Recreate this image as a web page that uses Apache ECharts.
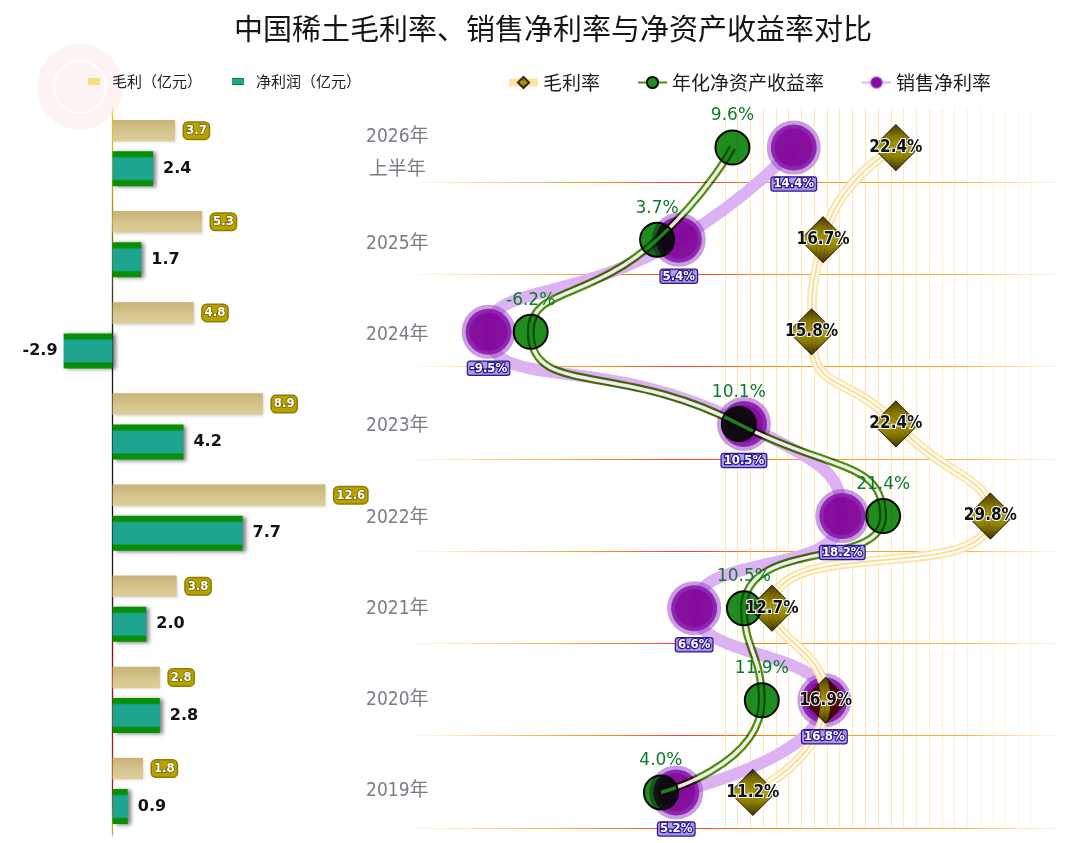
<!DOCTYPE html>
<html><head><meta charset="utf-8">
<script src="https://cdn.jsdelivr.net/npm/echarts@6/dist/echarts.min.js"></script>
<style>html,body{margin:0;padding:0;background:#fff}#c{width:1080px;height:843px}</style>
</head><body><div id="c"></div>
<script>
// ---- data ----
const categories = ['2019年','2020年','2021年','2022年','2023年','2024年','2025年','2026年\n上半年'];
const grossProfit = [1.8, 2.8, 3.8, 12.6, 8.9, 4.8, 5.3, 3.7];      // 毛利（亿元）
const netProfit   = [0.9, 2.8, 2.0, 7.7, 4.2, -2.9, 1.7, 2.4];      // 净利润（亿元）
const grossMargin = [11.2, 16.9, 12.7, 29.8, 22.4, 15.8, 16.7, 22.4]; // 毛利率 %
const roe         = [4.0, 11.9, 10.5, 21.4, 10.1, -6.2, 3.7, 9.6];   // 年化净资产收益率 %
const netMargin   = [5.2, 16.8, 6.6, 18.2, 10.5, -9.5, 5.4, 14.4];   // 销售净利率 %

const chart = echarts.init(document.getElementById('c'), null, {renderer: 'canvas'});
const LG = echarts.graphic.LinearGradient;
const CJK = "'Noto Sans CJK SC', sans-serif";
const NARROW = "'Liberation Sans Narrow','DejaVu Sans Condensed','Noto Sans CJK SC',sans-serif";

// vertical faint grid line colours (one per unit tick from -15 to 35)
const vColors = [];
for (let v = -15; v <= 35; v++) {
  let a = 0;
  if (v >= 9 && v <= 33) a = v <= 22 ? 0.5 : 0.5 - (v - 22) * 0.032;
  vColors.push('rgba(248,214,110,' + a.toFixed(3) + ')');
}
const hLineColor = new LG(0, 0, 1, 0, [
  {offset: 0, color: 'rgba(255,225,150,0.15)'},
  {offset: 0.12, color: 'rgba(255,200,110,0.85)'},
  {offset: 0.3, color: '#ff8a1a'},
  {offset: 0.42, color: '#f23a2a'},
  {offset: 0.55, color: '#ff8c10'},
  {offset: 0.85, color: '#ffae40'},
  {offset: 1, color: 'rgba(255,215,150,0.2)'}
]);
const pct = p => Number(p.value).toFixed(1) + '%';

const option = {
  backgroundColor: '#fff',
  animation: false,
  title: {
    text: '中国稀土毛利率、销售净利率与净资产收益率对比',
    left: 234, top: 14, padding: 0,
    textStyle: {fontSize: 29, fontWeight: 'normal', color: '#151515', fontFamily: CJK}
  },
  graphic: [
    {type: 'circle', shape: {cx: 80, cy: 87, r: 43}, style: {fill: 'rgba(250,222,222,0.35)'}, silent: true, z: -1},
    {type: 'circle', shape: {cx: 80, cy: 87, r: 26}, style: {fill: 'none', stroke: 'rgba(255,255,255,0.95)', lineWidth: 2}, silent: true, z: -1}
  ],
  legend: [
    {
      data: [{name: '毛利（亿元）', itemStyle: {color: '#f3df7c'}}, {name: '净利润（亿元）'}],
      left: 88, top: 74, padding: 0, icon: 'rect', itemWidth: 12, itemHeight: 7, itemGap: 30,
      textStyle: {fontSize: 15, color: '#222', fontFamily: CJK, padding: [0, 0, 0, 7]}
    },
    {
      data: [{name: '毛利率', lineStyle: {width: 8, color: '#fde3a4'}}, {name: '年化净资产收益率'}, {name: '销售净利率'}],
      left: 505, top: 73, padding: 0, itemWidth: 29, itemHeight: 14, itemGap: 37,
      textStyle: {fontSize: 19, color: '#1a1a1a', fontFamily: CJK}
    }
  ],
  grid: [
    {left: 45, width: 304, top: 107.5, height: 729},
    {left: 418.3, width: 638.5, top: 101.5, height: 737},
    {left: 415, width: 645, top: 182, height: 646},
    {left: 418.3, width: 638.5, top: 108, height: 720},
    {left: 418.3, width: 10, top: 107.5, height: 729}
  ],
  xAxis: [
    {gridIndex: 0, type: 'value', min: -4, max: 14, show: false},
    {gridIndex: 1, type: 'value', min: -15, max: 35, show: false},
    {gridIndex: 2, type: 'value', min: 0, max: 1, show: false},
    {gridIndex: 3, type: 'value', min: -15, max: 35, interval: 1,
      axisLine: {show: false}, axisTick: {show: false}, axisLabel: {show: false},
      splitLine: {show: true, lineStyle: {color: vColors, width: 1}}},
    {gridIndex: 4, type: 'value', min: 0, max: 1, show: false}
  ],
  yAxis: [
    {gridIndex: 0, type: 'category', data: categories,
      axisLine: {show: true, onZero: true, lineStyle: {width: 1.3, color: new LG(0, 0, 0, 1, [
        {offset: 0, color: 'rgba(230,205,0,0)'},
        {offset: 0.016, color: '#e2c800'},
        {offset: 0.12, color: '#b8a400'},
        {offset: 0.3, color: '#1a1a1a'},
        {offset: 0.6, color: '#111'},
        {offset: 0.75, color: '#8a1010'},
        {offset: 0.95, color: '#a03000'},
        {offset: 0.984, color: '#d6b400'},
        {offset: 1, color: 'rgba(0,0,0,0)'}
      ])}},
      axisTick: {show: false}, axisLabel: {show: false}, splitLine: {show: false}},
    {gridIndex: 1, type: 'category', data: categories,
      axisLine: {show: false}, axisTick: {show: false}, splitLine: {show: false}, axisLabel: {show: false}},
    {gridIndex: 2, type: 'value', min: 0, max: 7, interval: 1,
      axisLine: {show: false}, axisTick: {show: false}, axisLabel: {show: false},
      splitLine: {show: true, lineStyle: {color: hLineColor, width: 1.2}}},
    {gridIndex: 3, type: 'value', min: 0, max: 1, show: false},
    {gridIndex: 4, type: 'category', data: categories,
      axisLine: {show: false}, axisTick: {show: false}, splitLine: {show: false},
      axisLabel: {show: true, align: 'center', margin: 21, fontSize: 19, lineHeight: 33,
        color: '#7b7b86', fontFamily: NARROW}}
  ],
  series: [
    // ---- left bars ----
    {
      type: 'bar', name: '毛利（亿元）', xAxisIndex: 0, yAxisIndex: 0,
      data: grossProfit, barWidth: 21.5, barGap: '45%',
      itemStyle: {
        color: new LG(0, 0, 0, 1, [{offset: 0, color: '#c7b377'}, {offset: 0.55, color: '#d5c48c'}, {offset: 1, color: '#ddcf9c'}]),
        shadowColor: 'rgba(0,0,0,0.18)', shadowBlur: 3, shadowOffsetX: 1, shadowOffsetY: 1
      },
      label: {
        show: true, position: 'right', distance: 9, formatter: p => Number(p.value).toFixed(1),
        color: '#fff', fontFamily: NARROW, fontWeight: 'bold', fontSize: 13,
        backgroundColor: '#b8a200', borderColor: '#8c7c00', borderWidth: 1.5, borderRadius: 4,
        padding: [2, 2, 1, 2], textBorderColor: '#726400', textBorderWidth: 1.5
      }
    },
    {
      type: 'bar', name: '净利润（亿元）', xAxisIndex: 0, yAxisIndex: 0,
      data: netProfit.map(v => ({value: v, label: {position: v < 0 ? 'left' : 'right', distance: v < 0 ? 6 : 10}})),
      barWidth: 35, barGap: '45%',
      itemStyle: {
        color: new LG(0, 0, 0, 1, [
          {offset: 0, color: '#078f07'}, {offset: 0.15, color: '#078f07'},
          {offset: 0.2, color: '#1ea590'}, {offset: 0.8, color: '#1ea590'},
          {offset: 0.85, color: '#078f07'}, {offset: 1, color: '#078f07'}
        ]),
        shadowColor: 'rgba(0,0,0,0.5)', shadowBlur: 4, shadowOffsetX: 3, shadowOffsetY: 1
      },
      label: {
        show: true, formatter: p => Number(p.value).toFixed(1),
        color: '#111', fontFamily: "'DejaVu Sans'", fontWeight: 'bold', fontSize: 16
      }
    },
    // ---- gross margin (first entry gives the legend icon) ----
    {
      type: 'line', name: '毛利率', xAxisIndex: 1, yAxisIndex: 1, data: grossMargin,
      smooth: 0.6, z: 3, blendMode: 'multiply',
      lineStyle: {width: 2, color: '#fcdc98'},
      symbol: 'diamond', symbolSize: 46,
      itemStyle: {
        color: new LG(0, 0, 0, 1, [
          {offset: 0, color: '#4a3a10'}, {offset: 0.28, color: '#877c00'},
          {offset: 0.5, color: '#a59c10'}, {offset: 0.72, color: '#877c00'}, {offset: 1, color: '#40300c'}
        ]),
        borderColor: '#3a2a08', borderWidth: 0.8
      },
      silent: true
    },
    {
      type: 'line', name: '毛利率', xAxisIndex: 1, yAxisIndex: 1, data: grossMargin,
      smooth: 0.6, z: 2, symbol: 'none', lineStyle: {width: 10, color: '#fde4a8'}, silent: true
    },
    {
      type: 'line', name: '毛利率', xAxisIndex: 1, yAxisIndex: 1, data: grossMargin,
      smooth: 0.6, z: 2, symbol: 'none', lineStyle: {width: 6, color: '#ffffff'}, silent: true
    },
    // ---- net sales margin ----
    {
      type: 'line', name: '销售净利率', xAxisIndex: 1, yAxisIndex: 1, data: netMargin,
      smooth: 0.6, z: 1,
      lineStyle: {width: 12, color: '#dcb2f3'},
      symbol: 'circle', symbolSize: 46,
      itemStyle: {color: 'rgba(128,0,152,0.94)', borderColor: 'rgba(150,60,200,0.5)', borderWidth: 8},
      silent: true
    },
    // ---- ROE ----
    {
      type: 'line', name: '年化净资产收益率', xAxisIndex: 1, yAxisIndex: 1, data: roe,
      smooth: 0.6, z: 4, blendMode: 'multiply',
      lineStyle: {width: 8, color: '#4f8c10'},
      symbol: 'circle', symbolSize: 34,
      itemStyle: {color: '#1f8e1f', borderColor: '#0a0a0a', borderWidth: 2},
      label: {
        show: true, position: 'top', distance: 5, formatter: pct,
        color: '#0c7a2c', fontFamily: "'DejaVu Sans'", fontSize: 17
      },
      silent: true
    },
    {
      type: 'line', name: '年化净资产收益率', xAxisIndex: 1, yAxisIndex: 1, data: roe,
      smooth: 0.6, z: 4, symbol: 'none', lineStyle: {width: 3.5, color: 'rgba(255,255,255,0.9)'}, silent: true
    },
    // ---- net sales margin labels on top ----
    {
      type: 'line', name: '销售净利率', xAxisIndex: 1, yAxisIndex: 1, data: netMargin,
      z: 9, symbol: 'circle', symbolSize: 46,
      lineStyle: {width: 0, opacity: 0}, itemStyle: {color: 'rgba(0,0,0,0)'},
      label: {
        show: true, position: 'bottom', distance: 7, formatter: pct,
        color: '#fff', fontFamily: NARROW, fontWeight: 'bold', fontSize: 13,
        textBorderColor: '#2a1890', textBorderWidth: 2.5,
        backgroundColor: 'rgba(175,150,230,0.95)', borderColor: '#2a1890', borderWidth: 1.2,
        borderRadius: 2, padding: [0, 2, 0, 2]
      },
      silent: true
    },
    // ---- gross margin labels on top ----
    {
      type: 'line', name: '毛利率', xAxisIndex: 1, yAxisIndex: 1, data: grossMargin,
      z: 10, symbol: 'circle', symbolSize: 1,
      lineStyle: {width: 0, opacity: 0}, itemStyle: {color: 'rgba(0,0,0,0)'},
      label: {
        show: true, position: 'inside', formatter: pct,
        color: '#111', fontFamily: NARROW, fontWeight: 'bold', fontSize: 17,
        textBorderColor: '#fff', textBorderWidth: 2,
        textShadowColor: 'rgba(225,0,0,0.9)', textShadowOffsetX: -1, textShadowOffsetY: -1, textShadowBlur: 0
      },
      silent: true
    }
  ]
};
chart.setOption(option);
</script>
</body></html>
